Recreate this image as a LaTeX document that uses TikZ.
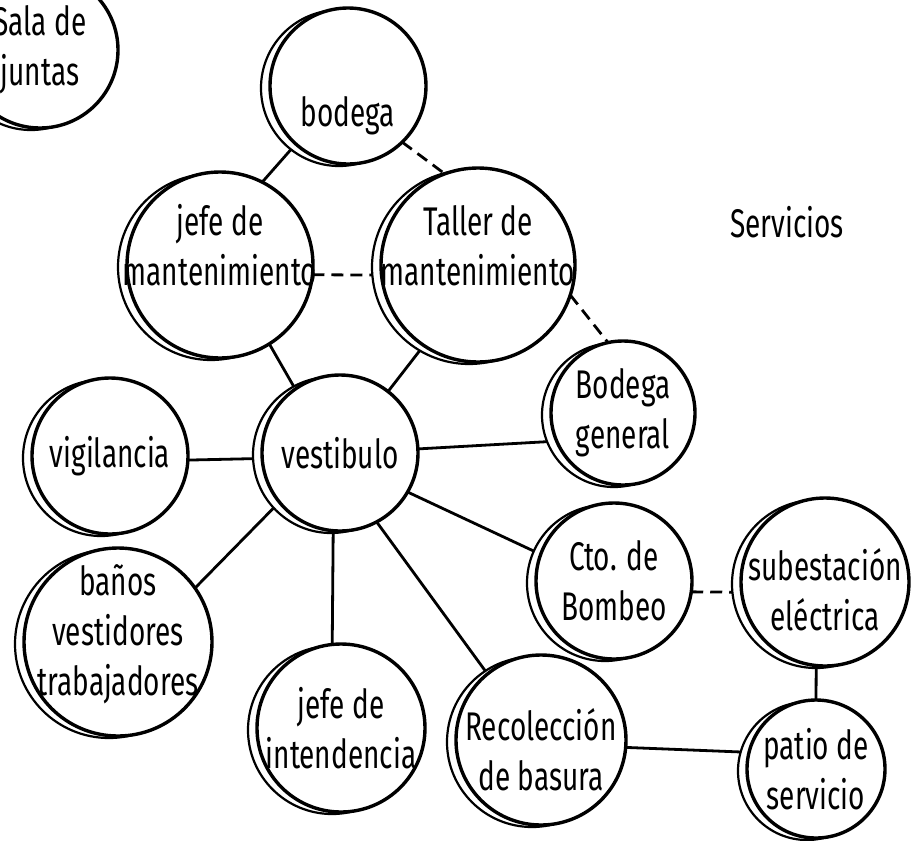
\documentclass[tikz,border=0pt]{standalone}
\usepackage{fontspec}
\setmainfont{Fira Sans}[FakeStretch=0.7]
\usepackage{tikz}
\usetikzlibrary{backgrounds}
\newcommand{\roomtxt}[2]{\raisebox{#1}[0pt][0pt]{\begin{tabular}{@{}c@{}}#2\end{tabular}}}

\begin{document}
\begin{tikzpicture}[x=1pt, y=-1pt,
          room/.style={circle, draw, line width=3.4pt, fill=white,
            inner sep=-40pt, outer sep=0pt, align=center,
            minimum size=#1,
            font=\fontsize{40}{50}\selectfont,
            preaction={draw, fill=white, line width=2.2pt,
              transform canvas={xshift=-9pt, yshift=-2pt}}},
          link/.style={line width=2.8pt},
          linkdash/.style={line width=2.8pt, dash pattern=on 12pt off 7pt}
        ]
          \useasboundingbox (0,0) rectangle (916,841);
          \clip (0,0) rectangle (916,841);
          \node[room=156pt] (sj) at (40,50) {Sala de\\juntas};
          \node[room=156pt] (bo) at (348,86) {\raisebox{-40pt}[0pt][0pt]{bodega}};
          \node[room=186pt] (jm) at (220,265) {\roomtxt{8pt}{jefe de\\mantenimiento}};
          \node[room=194pt] (tm) at (478,265) {\roomtxt{8pt}{Taller de\\mantenimiento}};
          \node[room=144pt] (bg) at (623,413) {Bodega\\general};
          \node[room=156pt] (vb) at (340,453) {vestibulo};
          \node[room=156pt] (vg) at (110,456) {vigilancia};
          \node[room=188pt] (bn) at (118,642) {\roomtxt{0pt}{baños\\vestidores\\trabajadores}};
          \node[room=168pt] (ji) at (341,728) {jefe de\\intendencia};
          \node[room=156pt] (cb) at (614,581) {Cto. de\\Bombeo};
          \node[room=168pt] (se) at (825,582) {\roomtxt{-20pt}{subestación\\eléctrica}};
          \node[room=170pt] (rb) at (541,740) {\roomtxt{-22pt}{Recolección\\de basura}};
          \node[room=138pt] (pt) at (816,769) {patio de\\servicio};
          \node[font=\fontsize{40}{50}\selectfont] (sv) at (787,222) {Servicios};
          \begin{scope}[on background layer]
            \draw[link] (bo.228) -- (jm.63);
            \draw[linkdash] (bo.314) -- (tm.110);
            \draw[linkdash] (jm.-6) -- (tm.186);
            \draw[link] (jm.-58) -- (vb.125);
            \draw[link] (tm.236) -- (vb.52);
            \draw[linkdash] (tm.-18) -- (bg.102);
            \draw[link] (vg.-3) -- (vb.184);
            \draw[link] (vb.3) -- (bg.203);
            \draw[link] (vb.-30) -- (cb.160);
            \draw[link] (vb.219) -- (bn.35);
            \draw[link] (vb.265) -- (ji.96);
            \draw[link] (vb.-62) -- (rb.129);
            \draw[linkdash] (cb.-8) -- (se.187);
            \draw[link] (se.264) -- (pt.90);
            \draw[link] (rb.-5) -- (pt.166);
          \end{scope}
        \end{tikzpicture}
\end{document}
